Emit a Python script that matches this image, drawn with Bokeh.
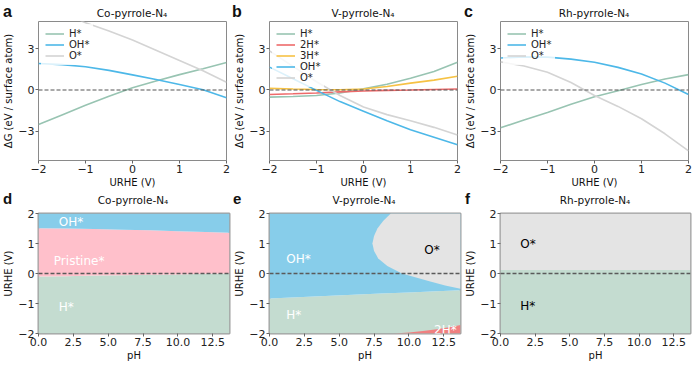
from bokeh.plotting import figure
from bokeh.models import Range1d, Span, Label, FixedTicker, Div
from bokeh.layouts import column, row
from bokeh.embed import file_html
from bokeh.resources import INLINE

# ---------------- data ----------------
U = [-2.0, -1.5, -1.0, -0.5, 0.0, 0.5, 1.0, 1.5, 2.0]

co_H = [-2.52, -1.82, -1.12, -0.45, 0.17, 0.66, 1.12, 1.55, 2.00]
co_OH = [1.93, 1.85, 1.70, 1.43, 1.10, 0.76, 0.40, 0.02, -0.57]
co_O = [6.60, 5.70, 4.90, 4.30, 3.65, 2.90, 2.15, 1.40, 0.57]

v_H = [-0.52, -0.48, -0.40, -0.22, 0.08, 0.42, 0.85, 1.35, 2.03]
v_2H = [-0.33, -0.28, -0.22, -0.14, -0.07, -0.03, 0.00, 0.04, 0.07]
v_3H = [0.12, 0.07, 0.03, 0.02, 0.07, 0.25, 0.50, 0.72, 1.00]
v_OH = [1.67, 0.82, -0.03, -0.85, -1.55, -2.25, -2.90, -3.45, -4.00]
v_O = [2.86, 1.72, 0.60, -0.40, -1.25, -1.80, -2.25, -2.73, -3.29]

rh_H = [-2.76, -2.20, -1.65, -1.05, -0.50, -0.05, 0.40, 0.80, 1.12]
rh_OH = [2.33, 2.42, 2.40, 2.25, 2.03, 1.65, 1.17, 0.50, -0.33]
rh_O = [2.05, 1.75, 1.30, 0.55, -0.40, -1.20, -2.10, -3.20, -4.45]

PH = [0.0, 2.0, 4.0, 6.0, 8.0, 10.0, 12.0, 13.7]
co_OH_bound = [1.51, 1.50, 1.48, 1.46, 1.44, 1.41, 1.38, 1.36]
co_H_bound = [-0.10, -0.09, -0.07, -0.06, -0.04, -0.03, -0.01, 0.00]

v_H_bound = [-0.83, -0.79, -0.75, -0.71, -0.67, -0.63, -0.59, -0.56]
v_O_U = [2.0, 1.75, 1.5, 1.25, 1.0, 0.75, 0.5, 0.25, 0.0, -0.25, -0.4, -0.51]
v_O_pH = [8.7, 8.15, 7.74, 7.5, 7.38, 7.5, 7.8, 8.45, 9.5, 11.4, 12.6, 13.7]
v_2H_pH = [8.9, 10.0, 11.0, 12.0, 13.0, 13.7]
v_2H_U = [-2.0, -1.97, -1.92, -1.86, -1.78, -1.72]

rh_bound_pH = [0.0, 13.7]
rh_bound_U = [0.12, 0.12]

PH_MAX = 13.7
U_MIN, U_MAX = -2.0, 2.0

letters_top = ["a", "b", "c"]
letters_bot = ["d", "e", "f"]
titles = ["Co-pyrrole-N\u2084", "V-pyrrole-N\u2084", "Rh-pyrrole-N\u2084"]

# ---------------- styles ----------------
FONT = "DejaVu Sans"
C_H, C_OH, C_O, C_2H, C_3H = "#98c4b2", "#4db8e8", "#d4d4d4", "#ee6a6a", "#f6c244"
R_OH, R_PR, R_H, R_O, R_2H = "#87cdea", "#ffc0cb", "#c4dcd0", "#e4e4e4", "#f08080"

TOTAL_W = 698
HEAD1_H, TOP_H, HEAD2_H, BOT_H = 21, 169, 17, 156
WIDTHS = [231, 231, 236]
LEFT = 38
TOP_RIGHT = [5, 5, 10]
BOT_RIGHT = [2, 2, 8]


def header(h, letter_x, title_x, letters, letter_top, title_top, letter_size):
    parts = ['<div style="position:relative;width:%dpx;height:%dpx;overflow:visible;">' % (TOTAL_W, h)]
    for lx, lt in zip(letter_x, letters):
        parts.append(
            '<span style="position:absolute;left:%dpx;top:%.1fpx;font-family:\'Liberation Sans\';'
            'font-weight:bold;font-size:%dpx;line-height:%dpx;color:#111;white-space:nowrap;">%s</span>'
            % (lx, letter_top, letter_size, letter_size, lt))
    for tx, tt in zip(title_x, titles):
        parts.append(
            '<span style="position:absolute;left:%dpx;top:%.1fpx;transform:translateX(-50%%);'
            'font-family:\'DejaVu Sans\';font-size:10.5px;line-height:10.5px;color:#111;'
            'white-space:nowrap;">%s</span>' % (tx, title_top, tt))
    parts.append('</div>')
    return Div(text="".join(parts), width=TOTAL_W, height=h, margin=0,
               styles={"overflow": "visible"})


def base_fig(w, h, xr, yr, right, top, bottom, outline_w, outline_c):
    p = figure(width=w, height=h, x_range=xr, y_range=yr, output_backend="svg",
               toolbar_location=None, min_border_left=LEFT, min_border_right=right,
               min_border_top=top, min_border_bottom=bottom)
    p.grid.visible = False
    p.outline_line_color = outline_c
    p.outline_line_width = outline_w
    for ax in (p.xaxis[0], p.yaxis[0]):
        ax.axis_line_color = None
        ax.major_tick_line_color = "#666666"
        ax.major_tick_in = 0
        ax.major_tick_out = 3
        ax.minor_tick_line_color = None
        ax.major_label_text_font = FONT
        ax.major_label_text_font_size = "11px"
        ax.major_label_text_color = "#222222"
        ax.major_label_standoff = 1
        ax.axis_label_text_font = FONT
        ax.axis_label_text_font_size = "10px"
        ax.axis_label_text_font_style = "normal"
        ax.axis_label_text_color = "#111111"
        ax.axis_label_standoff = 1
    return p


def top_panel(i, series):
    p = base_fig(WIDTHS[i], TOP_H, Range1d(-2, 2), Range1d(-5.15, 5.0), TOP_RIGHT[i], 0, 29,
                 1, "#8a8a8a")
    for ys, col, lab in series:
        p.line(U, ys, line_color=col, line_width=1.6, legend_label=lab)
    p.add_layout(Span(location=0, dimension="width", line_color="#555555",
                      line_dash="4 2", line_width=1.1))
    p.xaxis.ticker = FixedTicker(ticks=[-2, -1, 0, 1, 2])
    p.xaxis.major_label_overrides = {-2: "\u22122", -1: "\u22121"}
    p.yaxis.ticker = FixedTicker(ticks=[-3, 0, 3])
    p.yaxis.major_label_overrides = {-3: "\u22123"}
    p.xaxis.axis_label = "URHE (V)"
    p.yaxis.axis_label = "\u0394G (eV / surface atom)"
    lg = p.legend[0]
    lg.location = "top_left"
    lg.background_fill_color = "white"
    lg.background_fill_alpha = 0.8
    lg.border_line_alpha = 0
    lg.label_text_font = FONT
    lg.label_text_font_size = "10px"
    lg.label_text_color = "#222222"
    lg.glyph_width = 19
    lg.glyph_height = 9
    lg.label_height = 9
    lg.label_standoff = 5
    lg.spacing = 0
    lg.padding = 4
    lg.margin = 3
    return p


def bot_panel(i):
    p = base_fig(WIDTHS[i], BOT_H, Range1d(0, PH_MAX), Range1d(U_MIN, U_MAX), BOT_RIGHT[i], 6, 30,
                 2, "#9e9e9e")
    p.xaxis.ticker = FixedTicker(ticks=[0, 2.5, 5, 7.5, 10, 12.5])
    p.xaxis.major_label_overrides = {0: "0.0", 2.5: "2.5", 5: "5.0", 7.5: "7.5", 10: "10.0", 12.5: "12.5"}
    p.yaxis.ticker = FixedTicker(ticks=[-2, -1, 0, 1, 2])
    p.yaxis.major_label_overrides = {-2: "\u22122", -1: "\u22121"}
    p.xaxis.axis_label = "pH"
    p.yaxis.axis_label = "URHE (V)"
    return p


def region_label(p, x, y, text, color):
    p.add_layout(Label(x=x, y=y, text=text, text_align="left", text_baseline="middle",
                       text_font=FONT, text_font_size="12px", text_color=color))


def zero_line(p):
    p.add_layout(Span(location=0, dimension="width", line_color="#5a5a5a",
                      line_dash="4 2", line_width=1.4))


pa = top_panel(0, [(co_H, C_H, "H*"), (co_OH, C_OH, "OH*"), (co_O, C_O, "O*")])
pb = top_panel(1, [(v_H, C_H, "H*"), (v_2H, C_2H, "2H*"), (v_3H, C_3H, "3H*"),
                   (v_OH, C_OH, "OH*"), (v_O, C_O, "O*")])
pc = top_panel(2, [(rh_H, C_H, "H*"), (rh_OH, C_OH, "OH*"), (rh_O, C_O, "O*")])

# d: Co
pd = bot_panel(0)
pd.varea(x=PH, y1=[U_MIN] * len(PH), y2=co_H_bound, fill_color=R_H)
pd.varea(x=PH, y1=co_H_bound, y2=co_OH_bound, fill_color=R_PR)
pd.varea(x=PH, y1=co_OH_bound, y2=[U_MAX] * len(PH), fill_color=R_OH)
zero_line(pd)
region_label(pd, 1.45, 1.72, "OH*", "white")
region_label(pd, 1.1, 0.41, "Pristine*", "white")
region_label(pd, 1.45, -1.12, "H*", "white")

# e: V
pe = bot_panel(1)
pe.varea(x=PH, y1=[U_MIN] * len(PH), y2=v_H_bound, fill_color=R_H)
pe.varea(x=PH, y1=v_H_bound, y2=[U_MAX] * len(PH), fill_color=R_OH)
pe.patch(x=v_O_pH + [PH_MAX], y=v_O_U + [U_MAX], fill_color=R_O, line_color=None)
pe.varea(x=v_2H_pH, y1=[U_MIN] * len(v_2H_pH), y2=v_2H_U, fill_color=R_2H)
zero_line(pe)
region_label(pe, 1.2, 0.49, "OH*", "white")
region_label(pe, 1.2, -1.37, "H*", "white")
region_label(pe, 11.1, 0.79, "O*", "black")
region_label(pe, 11.8, -1.87, "2H*", "white")

# f: Rh
pf = bot_panel(2)
pf.varea(x=rh_bound_pH, y1=[U_MIN] * 2, y2=rh_bound_U, fill_color=R_H)
pf.varea(x=rh_bound_pH, y1=rh_bound_U, y2=[U_MAX] * 2, fill_color=R_O)
zero_line(pf)
region_label(pf, 1.43, 1.0, "O*", "black")
region_label(pf, 1.43, -1.07, "H*", "black")

h1 = header(HEAD1_H, [3, 232, 464], [132, 363, 594], letters_top, 3.5, 8.1, 16)
h2 = header(HEAD2_H, [3, 233, 465], [133, 364, 595], letters_bot, 1.3, 5.1, 15)

layout = column(h1, row(pa, pb, pc), h2, row(pd, pe, pf))
open("out.html", "w").write(file_html(layout, INLINE))
